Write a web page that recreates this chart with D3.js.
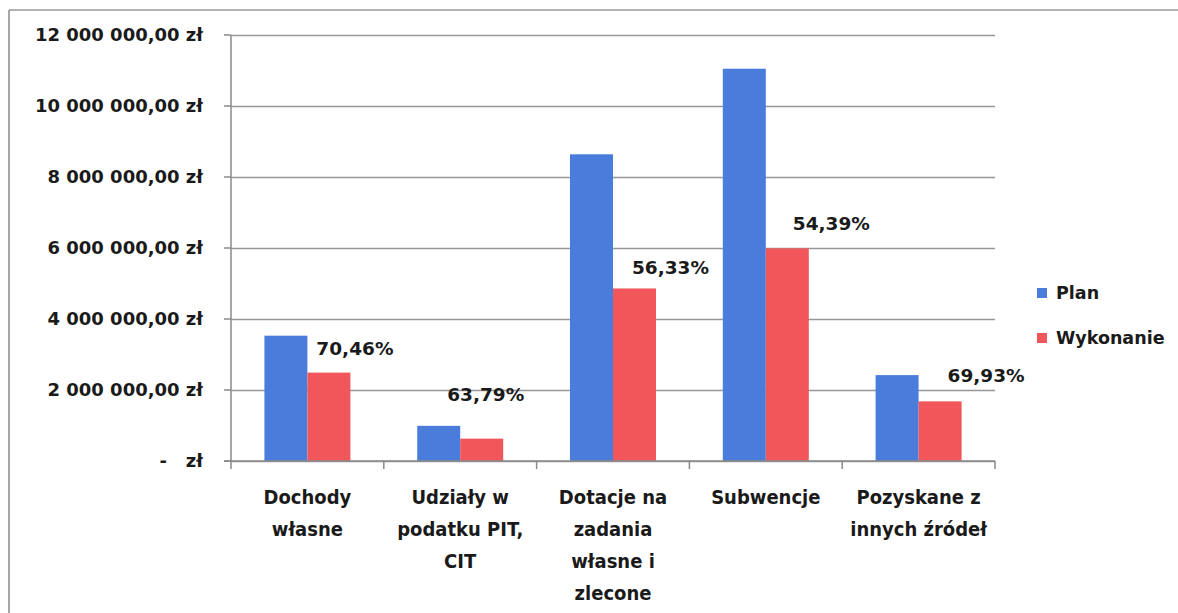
<!DOCTYPE html>
<html><head><meta charset="utf-8">
<script src="https://cdn.jsdelivr.net/npm/d3@7"></script>
<style>
html,body{margin:0;padding:0;background:#fff;}
svg{display:block;}
text{font-family:"DejaVu Sans",Verdana,sans-serif;font-weight:bold;fill:#1a1a1a;}
.cat{font-family:"DejaVu Sans Condensed","DejaVu Sans",sans-serif;}
</style></head>
<body>
<script>
// ---- data ----
const categories = [
  ["Dochody", "własne"],
  ["Udziały w", "podatku PIT,", "CIT"],
  ["Dotacje na", "zadania", "własne i", "zlecone"],
  ["Subwencje"],
  ["Pozyskane z", "innych źródeł"]
];
const seriesNames = ["Plan", "Wykonanie"];
const planValues = [3530000, 990000, 8640000, 11050000, 2420000];
const wykonanieValues = [2490000, 630000, 4860000, 5990000, 1680000];
const percentLabels = ["70,46%", "63,79%", "56,33%", "54,39%", "69,93%"];
const yTicks = [0, 2000000, 4000000, 6000000, 8000000, 10000000, 12000000];
const yTickLabels = ["-   zł", "2 000 000,00 zł", "4 000 000,00 zł", "6 000 000,00 zł", "8 000 000,00 zł", "10 000 000,00 zł", "12 000 000,00 zł"];

// ---- layout / style ----
const W = 1178, H = 613;
const plot = {left: 231, right: 995, top: 35, bottom: 461};
const colors = {"Plan": "#4a7ddb", "Wykonanie": "#f0565a"};
// manual label nudges (relative to red bar top/center), as in source
const labelNudge = [[26, -24], [4, -44], [36, -21], [44, -25], [46, -26]];

const svg = d3.select("body").append("svg").attr("width", W).attr("height", H);

// outer frame (left and top edges visible)
svg.append("line").attr("x1", 9).attr("x2", 9).attr("y1", 10).attr("y2", H)
  .attr("stroke", "#8a8a8a").attr("stroke-width", 1.5);
svg.append("line").attr("x1", 9).attr("x2", W).attr("y1", 10).attr("y2", 10)
  .attr("stroke", "#9a9a9a").attr("stroke-width", 1.5);

const idx = categories.map((d, i) => i);
const x0 = d3.scaleBand().domain(idx).range([plot.left, plot.right]).padding(0);
const x1 = d3.scaleBand().domain(seriesNames).range([0, x0.bandwidth()]).paddingInner(0).paddingOuter(0.777);
const y = d3.scaleLinear().domain([0, 12000000]).range([plot.bottom, plot.top]);

// gridlines
const yAxis = d3.axisLeft(y).tickValues(yTicks).tickSize(-(plot.right - plot.left)).tickFormat("");
const gy = svg.append("g").attr("transform", `translate(${plot.left},0)`).call(yAxis);
gy.select(".domain").remove();
gy.selectAll(".tick line").attr("stroke", "#979797").attr("stroke-width", 1.5);
// small outer ticks on left
svg.append("g").selectAll("line").data(yTicks).join("line")
  .attr("x1", plot.left - 7).attr("x2", plot.left)
  .attr("y1", d => y(d)).attr("y2", d => y(d))
  .attr("stroke", "#8a8a8a").attr("stroke-width", 1.5);

// y labels
svg.append("g").selectAll("text").data(yTicks).join("text")
  .attr("x", 203).attr("y", d => y(d)).attr("dy", "0.36em")
  .attr("text-anchor", "end").attr("font-size", 18)
  .style("white-space", "pre")
  .text((d, i) => yTickLabels[i]);

// bars
const rows = idx.map(i => ({i, vals: [planValues[i], wykonanieValues[i]]}));
const groups = svg.append("g").selectAll("g").data(rows).join("g")
  .attr("transform", d => `translate(${x0(d.i)},0)`);
groups.selectAll("rect").data(d => d.vals.map((v, k) => ({s: seriesNames[k], v})))
  .join("rect")
  .attr("x", d => x1(d.s)).attr("width", x1.bandwidth())
  .attr("y", d => y(d.v)).attr("height", d => y(0) - y(d.v))
  .attr("fill", d => colors[d.s]);

// axes lines
svg.append("line").attr("x1", plot.left).attr("x2", plot.left).attr("y1", plot.top).attr("y2", plot.bottom)
  .attr("stroke", "#8a8a8a").attr("stroke-width", 1.5);
svg.append("line").attr("x1", plot.left - 7).attr("x2", plot.right).attr("y1", plot.bottom).attr("y2", plot.bottom)
  .attr("stroke", "#8a8a8a").attr("stroke-width", 1.5);
const bounds = idx.map(i => x0(i)).concat([plot.right]);
svg.append("g").selectAll("line").data(bounds).join("line")
  .attr("x1", d => d).attr("x2", d => d).attr("y1", plot.bottom).attr("y2", plot.bottom + 8)
  .attr("stroke", "#8a8a8a").attr("stroke-width", 1.5);

// category labels
const cl = svg.append("g").selectAll("text").data(idx).join("text")
  .attr("class", "cat")
  .attr("text-anchor", "middle").attr("font-size", 20)
  .attr("transform", i => `translate(${x0(i) + x0.bandwidth() / 2},0)`);
cl.selectAll("tspan").data(i => categories[i]).join("tspan")
  .attr("x", 0).attr("y", (d, k) => 504 + k * 32).text(d => d);

// percent labels
svg.append("g").selectAll("text").data(idx).join("text")
  .attr("x", i => x0(i) + x1("Wykonanie") + x1.bandwidth() / 2 + labelNudge[i][0])
  .attr("y", i => y(wykonanieValues[i]) + labelNudge[i][1])
  .attr("dy", "0.36em").attr("text-anchor", "middle").attr("font-size", 18.5)
  .text(i => percentLabels[i]);

// legend
const lg = svg.append("g").selectAll("g").data(seriesNames).join("g")
  .attr("transform", (d, k) => `translate(1037,${293 + k * 45})`);
lg.append("rect").attr("x", 0).attr("y", -5).attr("width", 10).attr("height", 10).attr("fill", d => colors[d]);
lg.append("text").attr("x", 19).attr("y", 0).attr("dy", "0.36em").attr("font-size", 17.5).text(d => d);
</script>
</body></html>
